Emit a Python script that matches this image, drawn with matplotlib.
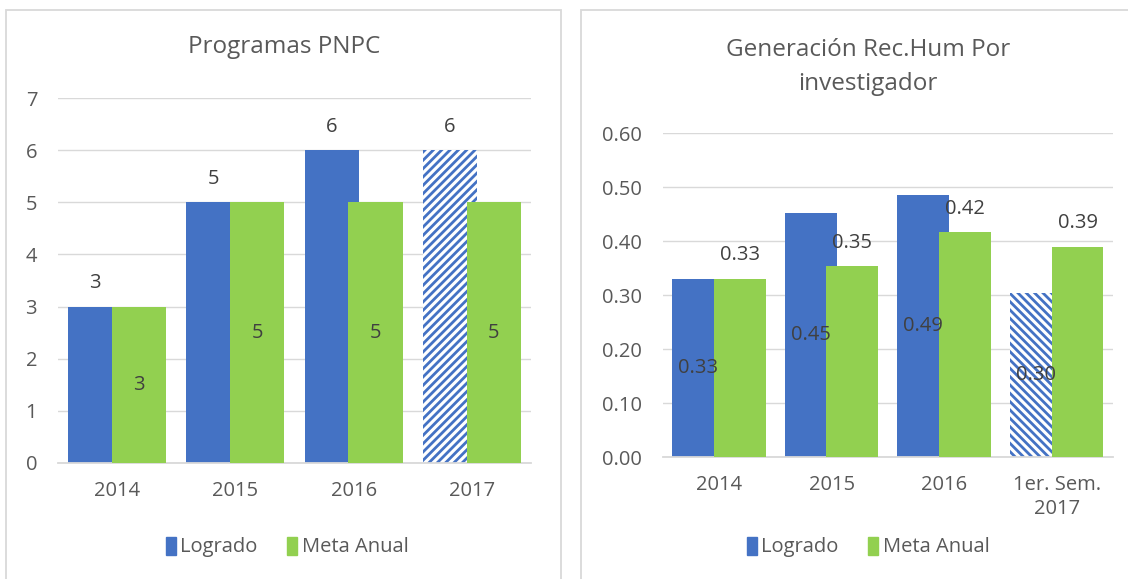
import matplotlib
matplotlib.use('Agg')
import matplotlib.pyplot as plt
from matplotlib.patches import Rectangle, Patch

# data
left_years = ['2014', '2015', '2016', '2017']
left_logrado = [3, 5, 6, 6]
left_meta = [3, 5, 5, 5]

right_periods = ['2014', '2015', '2016', '1er. Sem.\n2017']
right_logrado = [0.33, 0.452, 0.486, 0.304]
right_meta = [0.33, 0.354, 0.417, 0.39]

BLUE = '#4472C4'
GREEN = '#92D050'
GRID = '#D9D9D9'
TXT = '#595959'
LBL = '#404040'

plt.rcParams['font.family'] = ['Open Sans', 'DejaVu Sans']
plt.rcParams['hatch.linewidth'] = 2.0

W, H = 1128, 579
fig = plt.figure(figsize=(W / 100, H / 100), dpi=100)


def px_axes(x0, y0, x1, y1):
    # pixel box (top-left origin) -> axes
    return fig.add_axes([x0 / W, 1 - y1 / H, (x1 - x0) / W, (y1 - y0) / H])


def draw_bars(ax, labels, logrado, meta, ymax, yticks, fmt, hatch,
              logrado_mid, label_off):
    x = list(range(len(labels)))
    bw = 0.46
    shift = 0.185
    for i, v in enumerate(logrado):
        if i == len(logrado) - 1:
            ax.bar(i - shift, v, bw, facecolor='white', edgecolor=BLUE,
                   hatch=hatch, linewidth=0, zorder=2)
        else:
            ax.bar(i - shift, v, bw, color=BLUE, linewidth=0, zorder=2)
    ax.bar([i + shift for i in x], meta, bw, color=GREEN, linewidth=0, zorder=3)

    fs = 14.5
    for i in x:
        lv, mv = logrado[i], meta[i]
        if logrado_mid:
            ax.text(i - shift, lv / 2, fmt.format(lv), ha='center', va='center',
                    fontsize=fs, color=LBL, zorder=5)
            ax.annotate(fmt.format(mv), (i + shift, mv), xytext=(0, label_off),
                        textcoords='offset points', ha='center', va='center',
                        fontsize=fs, color=LBL, zorder=5)
        else:
            ax.annotate(fmt.format(lv), (i - shift, lv), xytext=(0, label_off),
                        textcoords='offset points', ha='center', va='center',
                        fontsize=fs, color=LBL, zorder=5)
            ax.text(i + shift, mv / 2, fmt.format(mv), ha='center', va='center',
                    fontsize=fs, color=LBL, zorder=5)

    ax.set_xlim(-0.5, len(labels) - 0.5)
    ax.set_ylim(0, ymax)
    ax.set_yticks(yticks)
    ax.set_yticklabels([fmt.format(t) for t in yticks])
    ax.set_xticks(x)
    ax.set_xticklabels(labels, linespacing=1.25)
    ax.yaxis.grid(True, color=GRID, linewidth=1.0, zorder=0)
    ax.set_axisbelow(True)
    for s in ['top', 'right', 'left']:
        ax.spines[s].set_visible(False)
    ax.spines['bottom'].set_color(GRID)
    ax.spines['bottom'].set_linewidth(1.3)
    ax.tick_params(axis='both', length=0, labelsize=14.5, labelcolor=TXT)
    ax.tick_params(axis='y', pad=15)
    ax.tick_params(axis='x', pad=13)


axl = px_axes(58, 98.3, 531, 462.7)
draw_bars(axl, left_years, left_logrado, left_meta, 7, list(range(8)),
          '{:g}', '////', False, 17)

axr = px_axes(662.7, 133.3, 1113, 457.3)
draw_bars(axr, right_periods, right_logrado, right_meta, 0.6,
          [0, 0.1, 0.2, 0.3, 0.4, 0.5, 0.6], '{:.2f}', '\\\\\\\\', True, 17)

# titles
fig.text(284 / W, 1 - 47 / H, 'Programas PNPC', ha='center', va='center',
         fontsize=17.5, color=TXT)
fig.text(868 / W, 1 - 67 / H, 'Generación Rec.Hum Por\ninvestigador',
         ha='center', va='center', fontsize=17.5, color=TXT, linespacing=1.6)

# legends
handles = [Patch(color=BLUE, label='Logrado'), Patch(color=GREEN, label='Meta Anual')]
for cx in (287, 868):
    fig.legend(handles=handles, loc='center', bbox_to_anchor=(cx / W, 1 - 547 / H),
               ncol=2, frameon=False, fontsize=14.5, labelcolor=TXT,
               handlelength=0.5, handleheight=1.0, handletextpad=0.2,
               columnspacing=1.5)

# chart area borders
fig.add_artist(Rectangle((6 / W, -0.05), 555 / W, 1.05 - 9.5 / H,
                         transform=fig.transFigure, fill=False,
                         edgecolor=GRID, linewidth=1.3))
fig.add_artist(Rectangle((581 / W, -0.05), 600 / W, 1.05 - 10 / H,
                         transform=fig.transFigure, fill=False,
                         edgecolor=GRID, linewidth=1.3))

fig.savefig('out.png', dpi=100)
